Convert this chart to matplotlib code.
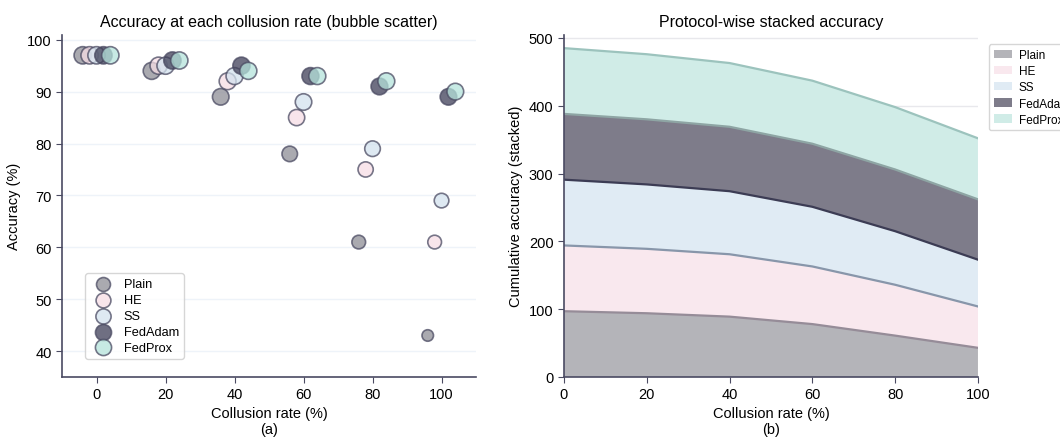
import numpy as np
import matplotlib.pyplot as plt

plt.rcParams['font.family'] = ['Liberation Sans', 'DejaVu Sans']

rates = [0, 20, 40, 60, 80, 100]
protocols = ["Plain", "HE", "SS", "FedAdam", "FedProx"]
plain = [97, 94, 89, 78, 61, 43]
he = [97, 95, 92, 85, 75, 61]
ss = [97, 95, 93, 88, 79, 69]
fedadam = [97, 96, 95, 93, 91, 89]
fedprox = [97, 96, 94, 93, 92, 90]
series = [plain, he, ss, fedadam, fedprox]

fill_cols = ["#8e8e96", "#f6dde5", "#d3e2ee", "#3f3f58", "#b5e3db"]
stack_cols = ["#b4b4b9", "#f9e8ee", "#e0ebf4", "#7e7c8a", "#d0ece7"]
line_cols = ["#968c98", "#8896aa", "#3c3c54", "#8ea5a4", "#9cc3bd"]
edge = "#4a4a62"
offsets = [-4, -2, 0, 2, 4]

fig = plt.figure(figsize=(10.6, 4.39), dpi=100)
ax1 = fig.add_axes([0.0585, 0.139, 0.3906, 0.780])
ax2 = fig.add_axes([0.532, 0.139, 0.3906, 0.780])

# (a) bubble scatter, bubble area follows accuracy
for name, vals, c, off in zip(protocols, series, fill_cols, offsets):
    v = np.array(vals)
    ax1.scatter(np.array(rates) + off, v, s=v * 1.6, color=c, alpha=0.75,
                edgecolors=edge, linewidths=1.2, label=name, zorder=3)
ax1.set_xlim(-10, 110)
ax1.set_ylim(35, 101)
ax1.set_yticks([40, 50, 60, 70, 80, 90, 100])
ax1.set_xticks([0, 20, 40, 60, 80, 100])
ax1.grid(axis="y", color="#eef3f9", linewidth=1)
ax1.set_axisbelow(True)
ax1.set_title("Accuracy at each collusion rate (bubble scatter)", fontsize=11.5)
ax1.set_xlabel("Collusion rate (%)", fontsize=10.5, labelpad=3)
ax1.set_ylabel("Accuracy (%)", fontsize=10.5)
ax1.legend(loc="lower left", bbox_to_anchor=(0.056, 0.053), borderaxespad=0,
           fontsize=9.2, frameon=True, borderpad=0.4, labelspacing=0.3,
           markerscale=0.95, handletextpad=0.6)

# (b) stacked area
ax2.stackplot(rates, *series, colors=stack_cols, labels=protocols, linewidth=0)
cum = np.cumsum(np.array(series), axis=0)
for row, c in zip(cum, line_cols):
    ax2.plot(rates, row, color=c, linewidth=1.6)
ax2.set_xlim(0, 100)
ax2.set_ylim(0, 505)
ax2.set_xticks([0, 20, 40, 60, 80, 100])
ax2.set_yticks([0, 100, 200, 300, 400, 500])
ax2.grid(axis="y", color="#e8e8ec", linewidth=1)
ax2.set_axisbelow(True)
ax2.set_title("Protocol-wise stacked accuracy", fontsize=11.5)
ax2.set_xlabel("Collusion rate (%)", fontsize=10.5, labelpad=3)
ax2.set_ylabel("Cumulative accuracy (stacked)", fontsize=10.5)
# legend sits past the right edge of the figure, as in the original
ax2.legend(loc="upper left", bbox_to_anchor=(1.027, 0.971), borderaxespad=0,
           fontsize=8.5, frameon=True, labelspacing=0.35, handlelength=1.5,
           handletextpad=0.6)

for ax in (ax1, ax2):
    ax.spines["top"].set_visible(False)
    ax.spines["right"].set_visible(False)
    for s in ("left", "bottom"):
        ax.spines[s].set_color(edge)
        ax.spines[s].set_linewidth(1.2)
    ax.tick_params(colors=edge, labelcolor="black", labelsize=10.5, length=4)

fig.text(0.0585 + 0.3906 / 2, 0.02, "(a)", ha="center", va="center", fontsize=10.5)
fig.text(0.532 + 0.3906 / 2, 0.02, "(b)", ha="center", va="center", fontsize=10.5)

fig.savefig("out.png", dpi=100)
